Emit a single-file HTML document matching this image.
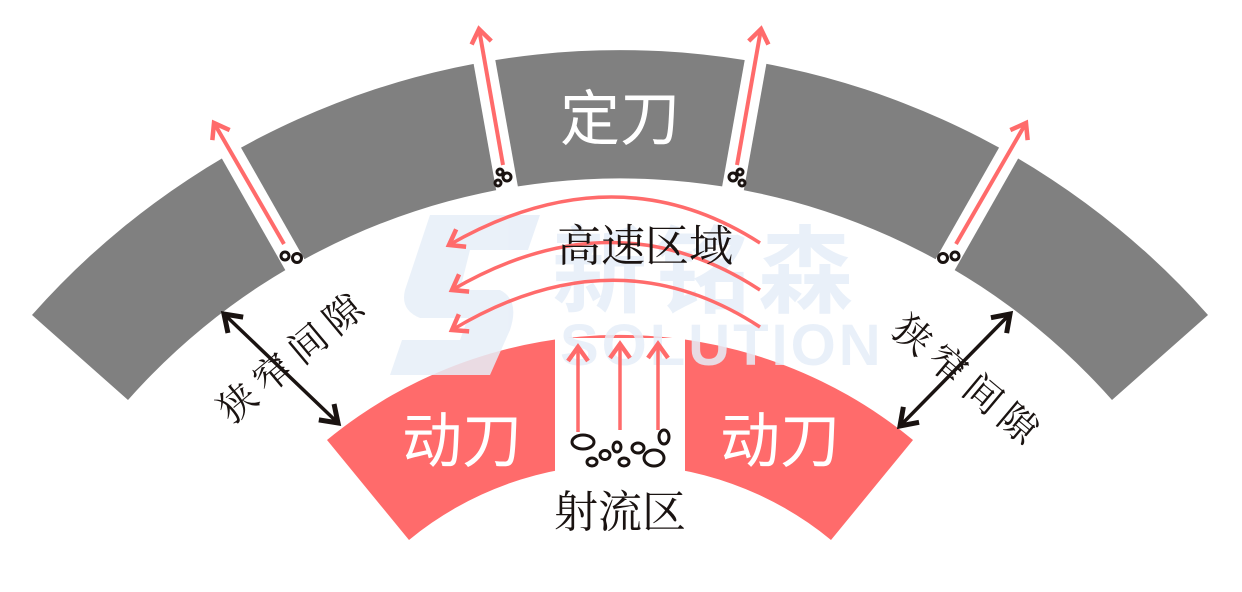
<!DOCTYPE html>
<html><head><meta charset="utf-8"><style>
html,body{margin:0;padding:0;background:#fff}
svg{display:block}
.serif{font-family:"Liberation Serif","Noto Serif CJK SC",serif}
.sans{font-family:"Liberation Sans","Noto Sans CJK SC",sans-serif}
</style></head><body>
<svg width="1242" height="592" viewBox="0 0 1242 592" xmlns="http://www.w3.org/2000/svg">
<defs>
<marker id="rh" markerUnits="userSpaceOnUse" markerWidth="40" markerHeight="40" refX="20" refY="20" orient="auto" viewBox="0 0 40 40">
<path d="M6,10 L20,20 L6,30" fill="none" stroke="#ff6b6b" stroke-width="4.5"/>
</marker>
<marker id="bh" markerUnits="userSpaceOnUse" markerWidth="40" markerHeight="40" refX="22" refY="20" orient="auto-start-reverse" viewBox="0 0 40 40">
<path d="M6,9 L22,20 L6,31" fill="none" stroke="#1a1311" stroke-width="5"/>
</marker>
</defs>
<!-- gray stator -->
<path d="M32,315 A785,785 0 0 1 1208,315 L1112,400 A657,657 0 0 0 128,400 Z" fill="#808080"/>
<g stroke="#fff" stroke-width="22">
<line x1="303" y1="279" x2="220" y2="133"/>
<line x1="510" y1="205" x2="480" y2="37"/>
<line x1="937" y1="279" x2="1020" y2="133"/>
<line x1="730" y1="205" x2="760" y2="37"/>
</g>
<g stroke="#ff6b6b" stroke-width="4" marker-end="url(#rh)">
<line x1="284" y1="244" x2="214" y2="123"/>
<line x1="503" y1="165" x2="479" y2="29"/>
<line x1="956" y1="244" x2="1026" y2="123"/>
<line x1="737" y1="165" x2="761" y2="29"/>
</g>
<g fill="none" stroke="#1a1311" stroke-width="3">
<circle cx="285" cy="256" r="4"/><circle cx="297" cy="258" r="4.5"/>
<circle cx="500" cy="172" r="3"/><circle cx="507" cy="177" r="4"/><circle cx="498" cy="183" r="3"/>
<circle cx="740" cy="172" r="3"/><circle cx="733" cy="177" r="4"/><circle cx="742" cy="183" r="3"/>
<circle cx="955" cy="256" r="4"/><circle cx="943" cy="258" r="4.5"/>
</g>
<text x="620" y="140" class="sans" font-size="60" fill="#fff" text-anchor="middle">定刀</text>
<!-- red rotor -->
<path d="M327,440 A461,461 0 0 1 913,440 L831,540 A332,332 0 0 0 409,540 Z" fill="#ff6b6b"/>
<rect x="555" y="338" width="130" height="222" fill="#fff"/>
<!-- watermark -->
<g fill="#e6eef8" opacity="0.85">
<path d="M430,215 L540,215 L528,250 L470,250 L460,290 L500,290 Q520,300 510,330 L490,375 L390,375 L402,340 L460,340 L468,318 L420,318 Q400,310 405,290 Z"/>
<text x="560" y="365" font-family="Liberation Sans" font-weight="bold" font-size="58" letter-spacing="3">SOLUTION</text>
<text x="552" y="305" class="sans" font-weight="bold" font-size="95" letter-spacing="8">新铭森</text>
</g>
<text x="462" y="462" class="sans" font-size="60" fill="#fff" text-anchor="middle">动刀</text>
<text x="780" y="462" class="sans" font-size="60" fill="#fff" text-anchor="middle">动刀</text>
<!-- curved arrows -->
<g fill="none" stroke="#ff6b6b" stroke-width="3.5" marker-end="url(#rh)">
<path d="M760,243 Q615,150 449,245"/>
<path d="M760,290 Q615,195 452,290"/>
<path d="M760,327 Q615,232 452,330"/>
</g>
<text x="645" y="261" class="serif" font-size="44" fill="#1a1311" text-anchor="middle">高速区域</text>
<!-- jet arrows -->
<g stroke="#ff6b6b" stroke-width="3.5" marker-end="url(#rh)">
<line x1="578" y1="432" x2="578" y2="347"/>
<line x1="620" y1="430" x2="620" y2="344"/>
<line x1="658" y1="430" x2="658" y2="344"/>
</g>
<g fill="none" stroke="#1a1311" stroke-width="3">
<ellipse cx="583" cy="442" rx="11" ry="7"/>
<ellipse cx="592" cy="462" rx="5" ry="4"/>
<ellipse cx="605" cy="455" rx="5" ry="4.5"/>
<ellipse cx="617" cy="447" rx="4" ry="5"/>
<ellipse cx="624" cy="462" rx="5" ry="4"/>
<ellipse cx="638" cy="448" rx="6" ry="5"/>
<ellipse cx="654" cy="458" rx="10" ry="8"/>
<ellipse cx="664" cy="437" rx="5" ry="7"/>
</g>
<text x="620" y="527" class="serif" font-size="44" fill="#1a1311" text-anchor="middle">射流区</text>
<!-- narrow gaps -->
<g stroke="#1a1311" stroke-width="3.5">
<line x1="224" y1="314" x2="338" y2="423" marker-start="url(#bh)" marker-end="url(#bh)"/>
<line x1="1010" y1="314" x2="900" y2="426" marker-start="url(#bh)" marker-end="url(#bh)"/>
</g>
<text transform="translate(302,366) rotate(-40)" class="serif" font-size="38" letter-spacing="8" fill="#1a1311" text-anchor="middle">狭窄间隙</text>
<text transform="translate(960,392) rotate(40)" class="serif" font-size="38" letter-spacing="8" fill="#1a1311" text-anchor="middle">狭窄间隙</text>
</svg>
</body></html>
